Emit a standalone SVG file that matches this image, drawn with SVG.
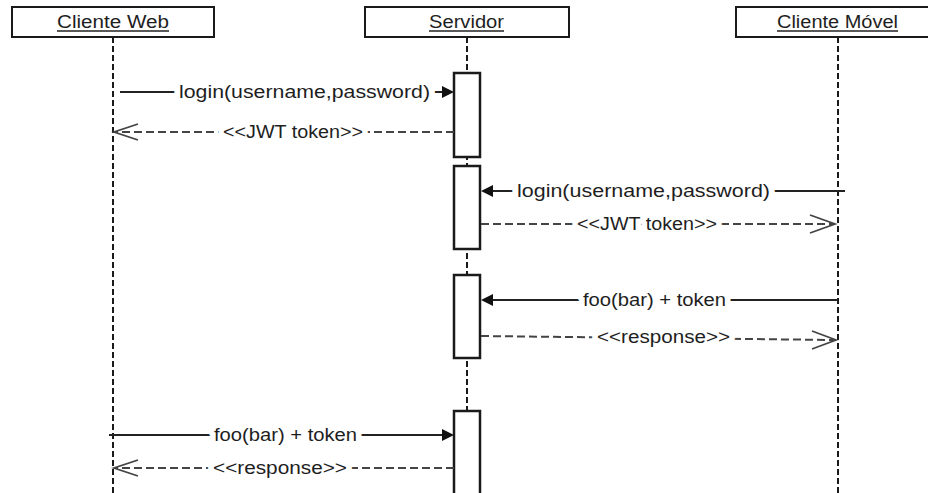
<svg xmlns="http://www.w3.org/2000/svg" width="928" height="493" viewBox="0 0 928 493">
<style>
  .hdr { fill: #fff; stroke: #1a1a1a; stroke-width: 2; }
  .act { fill: #fff; stroke: #1a1a1a; stroke-width: 2.5; }
  .life { stroke: #1a1a1a; stroke-width: 2; stroke-dasharray: 6 3; fill: none; }
  .t { font-family: "Liberation Sans", Arial, sans-serif; font-size: 17.5px; fill: #1e1e1e; }
  .lbl { paint-order: stroke; stroke: #fff; stroke-width: 10px; stroke-linejoin: round; }
  .call { stroke: #222; stroke-width: 1.8; fill: none; }
  .ret { stroke: #444; stroke-width: 2; fill: none; stroke-dasharray: 8 4; }
  .open { stroke: #444; stroke-width: 1.8; fill: none; }
  .solid { fill: #111; }
</style>

<g id="cliente-web">
  <line class="life" x1="113" y1="37" x2="113" y2="493"/>
  <rect class="hdr" x="12" y="7" width="202" height="30"/>
  <text class="t" x="57" y="28" textLength="112" lengthAdjust="spacingAndGlyphs">Cliente Web</text>
  <line x1="57" y1="31" x2="169" y2="31" stroke="#222" stroke-width="1.3"/>
</g>

<g id="servidor">
  <line class="life" x1="467" y1="37" x2="467" y2="493"/>
  <rect class="hdr" x="365" y="7" width="204" height="30"/>
  <text class="t" x="429" y="28" textLength="75" lengthAdjust="spacingAndGlyphs">Servidor</text>
  <line x1="429" y1="31" x2="504" y2="31" stroke="#222" stroke-width="1.3"/>
  <rect class="act" x="454" y="73" width="26" height="84"/>
  <rect class="act" x="454" y="166" width="26" height="83"/>
  <rect class="act" x="454" y="275" width="26" height="83"/>
  <rect class="act" x="454" y="411" width="26" height="90"/>
</g>

<g id="cliente-movel">
  <line class="life" x1="838" y1="37" x2="838" y2="493"/>
  <rect class="hdr" x="736" y="7" width="200" height="30"/>
  <text class="t" x="777" y="28" textLength="121" lengthAdjust="spacingAndGlyphs">Cliente Móvel</text>
  <line x1="777" y1="31" x2="898" y2="31" stroke="#222" stroke-width="1.3"/>
</g>

<g id="connectors">
  <line class="call" x1="120" y1="92" x2="444" y2="92"/>
  <polygon class="solid" points="454,92 442,86 442,98"/>
  <text class="t lbl" x="179" y="98" textLength="251" lengthAdjust="spacingAndGlyphs">login(username,password)</text>

  <line class="ret" x1="454" y1="132" x2="115" y2="132"/>
  <polyline class="open" points="138,124 114,132 138,140"/>
  <text class="t lbl" x="223" y="138" textLength="140" lengthAdjust="spacingAndGlyphs">&lt;&lt;JWT token&gt;&gt;</text>

  <line class="call" x1="845" y1="191" x2="491" y2="191"/>
  <polygon class="solid" points="481,191 493,185 493,197"/>
  <text class="t lbl" x="517" y="197" textLength="253" lengthAdjust="spacingAndGlyphs">login(username,password)</text>

  <line class="ret" x1="481" y1="224" x2="835" y2="224"/>
  <polyline class="open" points="810,215 835,224 810,233"/>
  <text class="t lbl" x="577" y="230" textLength="140" lengthAdjust="spacingAndGlyphs">&lt;&lt;JWT token&gt;&gt;</text>

  <line class="call" x1="838" y1="300" x2="491" y2="300"/>
  <polygon class="solid" points="481,300 493,294 493,306"/>
  <text class="t lbl" x="583" y="306" textLength="143" lengthAdjust="spacingAndGlyphs">foo(bar) + token</text>

  <line class="ret" x1="481" y1="336" x2="836" y2="340"/>
  <polyline class="open" points="812,331 836,340 812,349"/>
  <text class="t lbl" x="597" y="343" textLength="133" lengthAdjust="spacingAndGlyphs">&lt;&lt;response&gt;&gt;</text>

  <line class="call" x1="109" y1="435" x2="444" y2="435"/>
  <polygon class="solid" points="454,435 442,429 442,441"/>
  <text class="t lbl" x="214" y="441" textLength="143" lengthAdjust="spacingAndGlyphs">foo(bar) + token</text>

  <line class="ret" x1="454" y1="468" x2="115" y2="468"/>
  <polyline class="open" points="138,460 114,468 138,476"/>
  <text class="t lbl" x="213" y="474" textLength="134" lengthAdjust="spacingAndGlyphs">&lt;&lt;response&gt;&gt;</text>
</g>
</svg>
